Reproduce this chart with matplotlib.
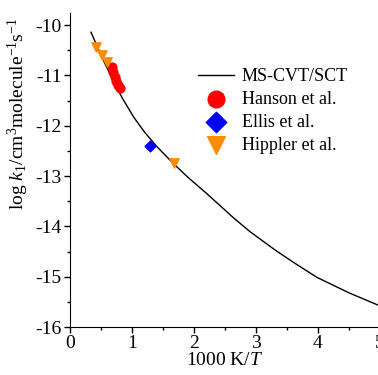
import matplotlib
matplotlib.use('Agg')
import matplotlib.pyplot as plt
from matplotlib.ticker import MultipleLocator

plt.rcParams['font.family'] = 'Liberation Serif'
plt.rcParams['mathtext.fontset'] = 'custom'
plt.rcParams['mathtext.rm'] = 'Liberation Serif'
plt.rcParams['mathtext.it'] = 'Liberation Serif:italic'
plt.rcParams['axes.unicode_minus'] = False

# MS-CVT/SCT curve
calc_x = [0.34, 0.45, 0.56, 0.70, 0.85, 1.03, 1.20, 1.40, 1.66, 1.90, 2.20,
          2.63, 2.90, 3.31, 3.60, 3.98, 4.50, 5.00]
calc_y = [-10.14, -10.45, -10.75, -11.11, -11.46, -11.83, -12.12, -12.41, -12.74,
          -13.02, -13.34, -13.82, -14.10, -14.47, -14.71, -15.01, -15.32, -15.58]

# experiments
hanson_x = [0.68, 0.70, 0.73, 0.75, 0.78, 0.81]
hanson_y = [-10.84, -10.93, -11.02, -11.10, -11.18, -11.25]
ellis_x = [1.29]
ellis_y = [-12.40]
hippler_x = [0.42, 0.52, 0.60, 1.68]
hippler_y = [-10.44, -10.60, -10.74, -12.74]

fig = plt.figure(figsize=(3.78, 3.75), dpi=100)
ax = fig.add_axes([0.185, 0.128, 0.82, 0.837])

ax.plot(calc_x, calc_y, color='black', lw=1.0, label='MS-CVT/SCT', zorder=1)
ax.scatter(hanson_x, hanson_y, marker='o', s=40, color='#ff0000', label='Hanson et al.', zorder=2)
ax.scatter(ellis_x, ellis_y, marker='D', s=30, color='#0000ff', label='Ellis et al.', zorder=2)
ax.scatter(hippler_x, hippler_y, marker='v', s=45, color='#ff8c00', label='Hippler et al.', zorder=2)

ax.set_xlim(0, 5)
ax.set_ylim(-16, -9.76)
ax.xaxis.set_major_locator(MultipleLocator(1))
ax.xaxis.set_minor_locator(MultipleLocator(0.5))
ax.yaxis.set_major_locator(MultipleLocator(1))
ax.yaxis.set_minor_locator(MultipleLocator(0.5))
ax.tick_params(which='both', direction='out', labelsize=14, width=1, pad=2)
ax.tick_params(which='major', length=4)
ax.tick_params(which='minor', length=2.5)
ax.spines['top'].set_visible(False)
ax.spines['right'].set_visible(False)

ax.set_xlabel('1000 K/$T$', fontsize=14, labelpad=0)
ax.set_ylabel('log $k_{1}$/cm$^{3}$molecule$^{-1}$s$^{-1}$', fontsize=14)
ax.yaxis.set_label_coords(-0.125, 0.68)

ax.legend(loc='upper right', bbox_to_anchor=(0.92, 0.848), frameon=False, fontsize=13,
          markerscale=1.9, handlelength=2.0, handletextpad=0.45, labelspacing=0.33,
          borderaxespad=0)

fig.savefig('out.png', dpi=100)
